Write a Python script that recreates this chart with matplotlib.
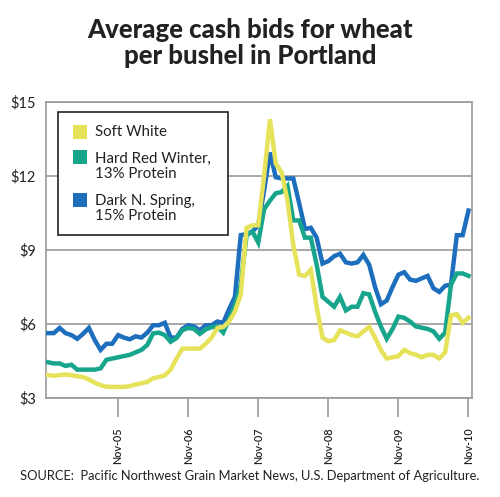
import matplotlib
matplotlib.use("Agg")
import matplotlib.pyplot as plt
from matplotlib.patches import Rectangle

plt.rcParams['font.family'] = ['Lato', 'DejaVu Sans']

# Monthly data, Nov-04 .. Nov-10 (73 months)
soft_white = [3.93, 3.90, 3.93, 3.95, 3.93, 3.88, 3.85, 3.75, 3.62, 3.52,
              3.46, 3.45, 3.45, 3.45, 3.48, 3.55, 3.60, 3.65, 3.80, 3.85,
              3.92, 4.15, 4.60, 5.00, 5.00, 5.00, 5.00, 5.20, 5.45, 5.84,
              5.88, 6.10, 6.50, 7.20, 9.90, 10.00, 10.00, 12.00, 14.30, 12.50,
              12.15, 11.00, 9.20, 8.00, 7.95, 8.20, 6.70, 5.45, 5.30, 5.35,
              5.75, 5.65, 5.55, 5.50, 5.70, 5.88, 5.45, 4.95, 4.60, 4.65,
              4.70, 4.95, 4.82, 4.75, 4.65, 4.75, 4.75, 4.60, 4.85, 6.35,
              6.40, 6.05, 6.25]
hard_red_winter = [4.45, 4.40, 4.40, 4.30, 4.35, 4.15, 4.15, 4.15, 4.15, 4.20,
                   4.55, 4.60, 4.65, 4.70, 4.75, 4.85, 4.95, 5.15, 5.62, 5.65,
                   5.55, 5.28, 5.43, 5.75, 5.84, 5.80, 5.60, 5.78, 5.87, 5.90,
                   5.65, 6.20, 6.75, 7.60, 9.60, 9.75, 9.30, 10.65, 11.00, 11.30,
                   11.35, 11.60, 10.20, 10.20, 9.50, 9.50, 8.40, 7.10, 6.90, 6.70,
                   7.10, 6.55, 6.70, 6.70, 7.25, 7.20, 6.50, 5.90, 5.40, 5.80,
                   6.30, 6.25, 6.10, 5.90, 5.85, 5.80, 5.70, 5.40, 5.65, 7.60,
                   8.05, 8.05, 7.95]
dark_n_spring = [5.63, 5.63, 5.84, 5.63, 5.55, 5.40, 5.60, 5.84, 5.35, 4.95,
                 5.20, 5.20, 5.55, 5.45, 5.38, 5.50, 5.45, 5.65, 5.95, 5.95,
                 6.05, 5.45, 5.45, 5.80, 5.95, 5.90, 5.75, 5.95, 5.95, 6.10,
                 6.05, 6.60, 7.10, 9.60, 9.65, 9.75, 10.00, 11.40, 12.95, 11.95,
                 11.90, 11.90, 11.90, 10.90, 9.85, 9.90, 9.50, 8.45, 8.55, 8.75,
                 8.85, 8.50, 8.45, 8.50, 8.80, 8.40, 7.50, 6.80, 6.95, 7.50,
                 8.00, 8.10, 7.80, 7.75, 7.85, 7.95, 7.45, 7.30, 7.55, 7.60,
                 9.60, 9.60, 10.60]

series_names = ["Soft White", "Hard Red Winter,\n13% Protein", "Dark N. Spring,\n15% Protein"]
tick_labels = ["Nov-05", "Nov-06", "Nov-07", "Nov-08", "Nov-09", "Nov-10"]
tick_months = [12, 24, 36, 48, 60, 72]
y_ticks = [3, 6, 9, 12, 15]
y_labels = ["$3", "$6", "$9", "$12", "$15"]

colors = {"yellow": "#e6e35a", "teal": "#17a58c", "blue": "#1e6ebe"}

W, H = 500, 497
fig = plt.figure(figsize=(W / 100, H / 100), dpi=100)
fig.patch.set_facecolor("white")

def fx(x):
    return x / W

def fy(y):
    return 1 - y / H

ax_l, ax_r, ax_t, ax_b = 45.5, 472, 102, 398
ax = fig.add_axes([fx(ax_l), fy(ax_b), (ax_r - ax_l) / W, (ax_b - ax_t) / H])

months = list(range(len(soft_white)))
ax.plot(months, dark_n_spring, color=colors["blue"], lw=3.2, solid_joinstyle="miter", zorder=3)
ax.plot(months, hard_red_winter, color=colors["teal"], lw=3.2, solid_joinstyle="miter", zorder=4)
ax.plot(months, soft_white, color=colors["yellow"], lw=3.2, solid_joinstyle="miter", zorder=5)

ax.set_xlim(-0.43, 72.6)
ax.set_ylim(3, 15)

grid_c = "#999999"
for s in ["left", "bottom", "right", "top"]:
    ax.spines[s].set_color(grid_c)
    ax.spines[s].set_linewidth(1.2)
ax.set_yticks(y_ticks)
ax.set_yticklabels(y_labels, fontsize=10.5, color="#222222")
ax.tick_params(axis="y", length=0, pad=7)
ax.yaxis.grid(True, color=grid_c, lw=1.2)
ax.set_axisbelow(True)

ax.set_xticks(tick_months)
ax.set_xticklabels(tick_labels, rotation=90, fontsize=7.8, color="#222222",
                   fontweight="semibold")
ax.tick_params(axis="x", length=14, width=1.2, color=grid_c, pad=7, direction="out")

# Legend (manual)
leg_box = Rectangle((fx(58), fy(235)), fx(228) - fx(58), fy(112) - fy(235),
                    transform=fig.transFigure, facecolor="white", edgecolor="#222222",
                    lw=1.2, zorder=10)
fig.patches.append(leg_box)
leg_items = [
    (colors["yellow"], 125, 132.5),
    (colors["teal"], 150, 166.5),
    (colors["blue"], 193, 208.5),
]
for (c, py, ty), name in zip(leg_items, series_names):
    fig.patches.append(Rectangle((fx(73), fy(py + 14)), fx(14), 14 / H,
                                 transform=fig.transFigure, facecolor=c,
                                 edgecolor="none", zorder=11))
    fig.text(fx(95), fy(ty), name, fontsize=10.8, color="#222222", ha="left",
             va="center", linespacing=1.12, zorder=12)

# Title
fig.text(0.5, fy(43), "Average cash bids for wheat\nper bushel in Portland",
         ha="center", va="center", fontsize=18.5, fontweight="black",
         color="#222222", linespacing=1.12)

# Source
fig.text(0.5, fy(476.5),
         "SOURCE:  Pacific Northwest Grain Market News, U.S. Department of Agriculture.",
         ha="center", va="center", fontsize=9.3, color="#222222")

fig.savefig("out.png", dpi=100, facecolor="white")
